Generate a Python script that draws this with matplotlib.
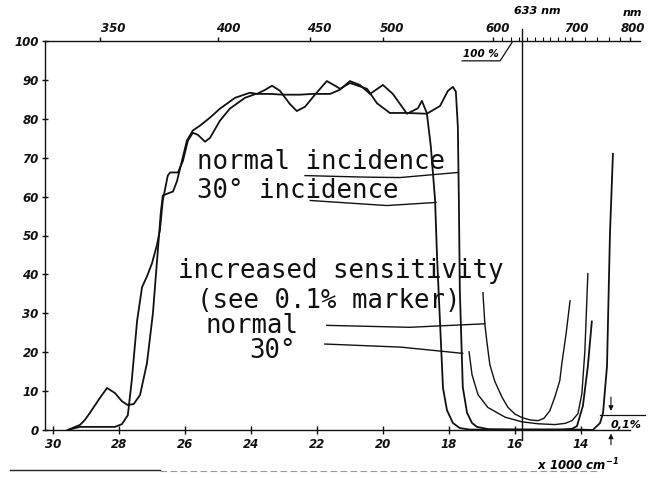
import matplotlib
matplotlib.use("Agg")
import numpy as np
import matplotlib.pyplot as plt
from matplotlib.ticker import FixedLocator
from matplotlib.transforms import ScaledTranslation
from matplotlib.lines import Line2D

plt.rcParams['mathtext.default'] = 'regular'

# ---------------- data: wavenumber (x1000 cm^-1) vs transmission (%) ----------------
normal_wn = [29.55, 29.33, 29.18, 29.03, 28.88, 28.73, 28.58, 28.36, 28.12, 27.91, 27.73, 27.55,
             27.36, 27.15, 26.97, 26.82, 26.73, 26.67, 26.52, 26.36, 26.24, 26.09, 25.94, 25.76,
             25.55, 25.24, 24.94, 24.48, 24.03, 23.82, 23.58, 23.36, 23.12, 22.82, 22.61, 22.36,
             22.06, 21.70, 21.45, 21.30, 21.00, 20.48, 20.18, 19.79, 19.27, 18.67, 18.27, 18.03,
             17.88, 17.79, 17.73, 17.70, 17.67, 17.58, 17.45, 17.30, 17.15, 16.80, 16.00, 15.00,
             14.00, 13.64, 13.42, 13.33, 13.21, 13.12, 13.03]
normal_T = [0.0, 0.8, 1.3, 2.6, 4.4, 6.3, 8.2, 10.8, 9.5, 7.4, 6.4, 6.7,
            9.0, 17.2, 30.0, 46.2, 56.0, 60.3, 60.8, 61.3, 64.0, 69.2, 74.4, 77.0,
            78.2, 80.3, 82.6, 85.4, 86.7, 86.4, 87.4, 88.5, 87.2, 83.8, 82.0, 83.1,
            86.2, 89.7, 88.5, 87.7, 89.2, 87.7, 84.0, 81.5, 81.5, 81.3, 83.3, 87.2,
            88.2, 87.0, 78.0, 60.0, 36.0, 11.0, 4.4, 1.8, 0.8, 0.2, 0.1, 0.1,
            0.1, 0.0, 1.8, 4.4, 16.4, 50.5, 71.0]

thirty_wn = [29.55, 29.33, 29.18, 28.58, 28.12, 27.91, 27.73, 27.61, 27.45, 27.30, 27.15, 27.00,
             26.85, 26.76, 26.67, 26.52, 26.45, 26.21, 26.06, 25.91, 25.76, 25.61, 25.39, 25.24,
             24.94, 24.64, 24.18, 23.85, 23.42, 23.03, 22.52, 22.12, 21.60, 21.30, 21.00, 20.70,
             20.39, 20.00, 19.70, 19.27, 18.94, 18.82, 18.67, 18.55, 18.42, 18.36, 18.27, 18.18,
             18.06, 17.88, 17.67, 17.36, 16.00, 15.00, 14.60, 14.27, 14.12, 13.94, 13.79, 13.67]
thirty_T = [0.0, 0.5, 0.8, 0.8, 0.8, 1.5, 3.8, 12.8, 28.0, 36.7, 39.5, 42.8,
            47.5, 51.3, 59.0, 65.4, 66.2, 66.2, 69.2, 74.4, 76.4, 75.9, 74.1, 75.1,
            79.5, 82.6, 85.4, 86.4, 86.4, 86.2, 86.2, 86.4, 86.4, 87.5, 89.7, 88.7,
            86.4, 88.7, 86.4, 81.3, 82.7, 84.6, 81.5, 73.0, 59.2, 44.5, 27.7, 10.8,
            5.1, 1.8, 0.5, 0.1, 0.1, 0.1, 0.1, 0.3, 1.0, 6.2, 16.4, 27.9]

# increased-sensitivity traces (blocking region)
mag_normal_wn = [16.97, 16.91, 16.85, 16.76, 16.61, 16.39, 16.21, 16.00, 15.79, 15.55, 15.30,
                 15.12, 14.94, 14.79, 14.64, 14.58, 14.45, 14.33]
mag_normal_T = [35.3, 27.1, 22.7, 16.8, 12.5, 8.4, 5.8, 4.1, 3.2, 2.6, 2.4,
                3.0, 5.0, 8.5, 12.7, 17.0, 24.7, 33.2]
mag_30_wn = [17.39, 17.30, 17.12, 16.82, 16.30, 15.79, 15.30, 14.79, 14.48, 14.27, 14.09,
             13.97, 13.88, 13.79]
mag_30_T = [20.1, 14.2, 9.1, 5.8, 3.3, 2.1, 1.6, 1.4, 1.7, 2.4, 4.2,
            9.4, 20.4, 40.2]

bottom_ticks = [30, 28, 26, 24, 22, 20, 18, 16, 14]
bottom_labels = ['30', '28', '26', '24', '22', '20', '18', '16', '14']
y_ticks = [0, 10, 20, 30, 40, 50, 60, 70, 80, 90, 100]
y_labels = ['0', '10', '20', '30', '40', '50', '60', '70', '80', '90', '100']
top_nm = [350, 400, 450, 500, 600, 700, 800]
top_labels = ['350', '400', '450', '500', '600', '700', '800']
top_minor_nm = [610, 620, 630, 640, 650, 660, 670, 680, 690, 720, 740, 760, 780]
laser_nm = 633

# ---------------- figure ----------------
fig = plt.figure(figsize=(6.49, 4.78), dpi=100)
fig.patch.set_facecolor('white')
ax = fig.add_axes([45 / 649, 48 / 478, 595 / 649, 389 / 478])
ax.set_xlim(30.24, 12.21)
ax.set_ylim(0, 100)

ink = '#111111'
for s in ['left', 'bottom', 'top']:
    ax.spines[s].set_color(ink)
    ax.spines[s].set_linewidth(1.0)
ax.spines['right'].set_visible(False)
ax.spines['bottom'].set_bounds(12.5, 30.24)

tick_font = dict(family='DejaVu Sans', style='italic', weight='bold', size=8.5)
ax.set_xticks(bottom_ticks)
ax.set_xticklabels(bottom_labels, fontdict=tick_font)
ax.set_yticks(y_ticks)
ax.set_yticklabels(y_labels, fontdict=tick_font)
ax.tick_params(axis='x', direction='inout', length=6, width=1, pad=3, colors=ink)
ax.tick_params(axis='y', direction='inout', length=5, width=1, pad=2, colors=ink)

def wn_to_nm(w):
    w = np.asarray(w, dtype=float)
    with np.errstate(divide='ignore'):
        return 1e4 / w

sec = ax.secondary_xaxis('top', functions=(wn_to_nm, wn_to_nm))
sec.set_xticks(top_nm)
sec.set_xticklabels(top_labels, fontdict=tick_font)
sec.xaxis.set_minor_locator(FixedLocator(top_minor_nm))
sec.tick_params(which='major', direction='out', length=3, width=1, pad=1, colors=ink)
sec.tick_params(which='minor', direction='out', length=3, width=0.8, colors=ink)
sec.spines['top'].set_visible(False)
shifts = [13, 10, 10, 9, 5, 5, 2]
for lab, dx in zip(sec.get_xticklabels(), shifts):
    lab.set_transform(lab.get_transform() + ScaledTranslation(dx / 100, 0, fig.dpi_scale_trans))

# ---------------- curves ----------------
ax.plot(normal_wn, normal_T, color=ink, lw=1.3, solid_joinstyle='round')
ax.plot(thirty_wn, thirty_T, color=ink, lw=1.3, solid_joinstyle='round')
ax.plot(mag_normal_wn, mag_normal_T, color=ink, lw=1.0, solid_joinstyle='round')
ax.plot(mag_30_wn, mag_30_T, color=ink, lw=1.0, solid_joinstyle='round')

# 633 nm laser line
laser_wn = 1e4 / laser_nm
ax.plot([laser_wn, laser_wn], [-2.5, 103.0], color=ink, lw=1.0, clip_on=False)
ax.text(15.33, 107.6, '633 nm', fontdict=dict(tick_font, size=8), ha='center', va='center', clip_on=False)
ax.text(12.45, 107.2, 'nm', fontdict=dict(tick_font, size=8), ha='center', va='center', clip_on=False)

# 100 % marker
ax.text(17.03, 96.6, '100 %', fontdict=dict(tick_font, size=7.5), ha='center', va='center')
ax.plot([17.60, 16.45, 16.09], [94.9, 94.9, 99.6], color=ink, lw=0.9)

# ---------------- annotations ----------------
mono = 'DejaVu Sans Mono'
tsize = 18.5
ax.text(25.64, 69.0, 'normal incidence', family=mono, size=tsize, ha='left', va='center', color=ink)
ax.text(25.64, 61.5, '30° incidence', family=mono, size=tsize, ha='left', va='center', color=ink)
ax.plot([22.36, 20.50, 19.48, 17.73], [65.4, 65.0, 64.9, 66.2], color=ink, lw=1.0)
ax.plot([22.20, 19.88, 18.39], [59.0, 57.7, 58.5], color=ink, lw=1.0)

ax.text(26.21, 41.0, 'increased sensitivity', family=mono, size=tsize, ha='left', va='center', color=ink)
ax.text(25.64, 33.1, '(see 0.1% marker)', family=mono, size=tsize, ha='left', va='center', color=ink)
ax.text(25.39, 26.7, 'normal', family=mono, size=tsize, ha='left', va='center', color=ink)
ax.text(24.05, 20.3, '30°', family=mono, size=tsize, ha='left', va='center', color=ink)
ax.plot([21.70, 19.20, 16.91], [26.9, 26.4, 27.3], color=ink, lw=1.0)
ax.plot([21.76, 19.45, 17.58], [22.1, 21.3, 19.7], color=ink, lw=1.0)

# 0.1 % marker
ax.plot([13.42, 12.06], [3.8, 3.8], color=ink, lw=0.9, clip_on=False)
ax.annotate('', xy=(13.09, 4.2), xytext=(13.09, 9.2),
            arrowprops=dict(arrowstyle='-|>', color=ink, lw=0.8, mutation_scale=7),
            annotation_clip=False)
ax.annotate('', xy=(13.09, -0.2), xytext=(13.09, -4.5),
            arrowprops=dict(arrowstyle='-|>', color=ink, lw=0.8, mutation_scale=7),
            annotation_clip=False)
ax.text(12.62, 1.4, '0,1%', fontdict=dict(tick_font, size=8), ha='center', va='center', clip_on=False)

ax.text(14.09, -9.0, 'x 1000 cm$^{-1}$', fontdict=dict(tick_font, size=8.5), ha='center', va='center', clip_on=False)

# stray page rule below the chart
fig.add_artist(Line2D([10 / 649, 160 / 649], [8 / 478, 8 / 478], color='#222222', lw=1.0))
fig.add_artist(Line2D([160 / 649, 600 / 649], [7 / 478, 7 / 478], color='#999999', lw=0.8, ls=(0, (6, 3))))

fig.savefig('out.png', dpi=100, facecolor='white')
